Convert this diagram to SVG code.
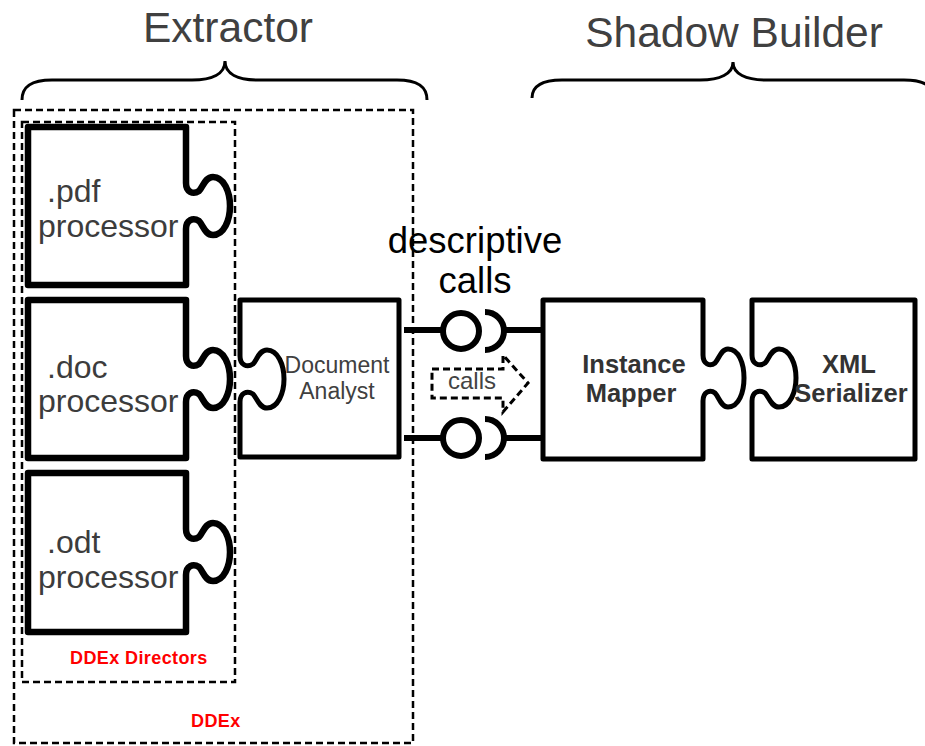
<svg xmlns="http://www.w3.org/2000/svg" width="925" height="746" viewBox="0 0 925 746">
  <style>
    .bg { fill: #ffffff; }
    .piece { fill: #ffffff; stroke: #000; stroke-linejoin: round; }
    .thick { stroke-width: 6.5; }
    .mid { stroke-width: 5; }
    .dash { fill: none; stroke: #000; stroke-width: 2.5; stroke-dasharray: 7 4; }
    .brace { fill: none; stroke: #000; stroke-width: 3; }
    .title { font-family: "Liberation Sans", Arial, sans-serif; font-size: 42.5px; fill: #404040; text-anchor: middle; }
    .proc { font-family: "Liberation Sans", Arial, sans-serif; font-size: 32px; fill: #3c3c3c; }
    .light { font-family: "Liberation Sans", Arial, sans-serif; font-size: 23px; fill: #404040; text-anchor: middle; }
    .bold { font-family: "Liberation Sans", Arial, sans-serif; font-size: 25.5px; font-weight: bold; fill: #333; text-anchor: middle; }
    .red { font-family: "Liberation Sans", Arial, sans-serif; font-size: 18px; font-weight: bold; fill: #ff0000; letter-spacing: 0.4px; }
    .wire { fill: none; stroke: #000; stroke-width: 6; }
  </style>

  <rect class="bg" x="0" y="0" width="925" height="746"/>

  <!-- Group headings with braces -->
  <g id="extractor-label">
    <text class="title" x="228" y="42">Extractor</text>
    <path class="brace" d="M22,100 C22,86 32,80 52,80 L192,80 C212,80 225,74 225,61 C225,74 238,80 258,80 L397,80 C417,80 427,86 427,100"/>
  </g>
  <g id="shadow-builder-label">
    <text class="title" x="734" y="47">Shadow Builder</text>
    <path class="brace" d="M532,98 C532,86 542,80 562,80 L700,80 C720,80 733,74 733,62 C733,74 746,80 766,80 L904,80 C924,80 934,86 934,98"/>
  </g>

  <!-- DDEx containers -->
  <g id="ddex">
    <rect class="dash" x="14" y="110" width="399" height="633"/>
    <text class="red" x="191" y="727">DDEx</text>
  </g>
  <g id="ddex-directors">
    <rect class="dash" x="22" y="122" width="213" height="560"/>
    <text class="red" x="70" y="664">DDEx Directors</text>
  </g>

  <!-- Processor pieces (tab on the right) -->
  <g id="pdf-processor">
    <path class="piece thick" d="M28,127 H186 V183 C186,192 193,195 199,191 C203,187 205,177 213,177 C224,177 230,192 230,206 C230,220 224,235 213,235 C205,235 203,225 199,221 C193,217 186,220 186,229 V285 H28 Z"/>
    <text class="proc" x="47" y="202">.pdf</text>
    <text class="proc" x="38" y="237">processor</text>
  </g>
  <g id="doc-processor">
    <path class="piece thick" d="M28,300 H186 V356 C186,365 193,368 199,364 C203,360 205,350 213,350 C224,350 230,365 230,379 C230,393 224,408 213,408 C205,408 203,398 199,394 C193,390 186,393 186,402 V458 H28 Z"/>
    <text class="proc" x="47" y="378">.doc</text>
    <text class="proc" x="38" y="412">processor</text>
  </g>
  <g id="odt-processor">
    <path class="piece thick" d="M28,473 H186 V529 C186,538 193,541 199,537 C203,533 205,523 213,523 C224,523 230,538 230,552 C230,566 224,581 213,581 C205,581 203,571 199,567 C193,563 186,566 186,575 V632 H28 Z"/>
    <text class="proc" x="47" y="553">.odt</text>
    <text class="proc" x="38" y="588">processor</text>
  </g>

  <!-- Document Analyst (socket on the left) -->
  <g id="document-analyst">
    <path class="piece mid" d="M240,300 H399 V457 H240 V402 C240,393 247,390 253,394 C257,398 259,408 267,408 C278,408 284,393 284,379 C284,365 278,350 267,350 C259,350 257,360 253,364 C247,368 240,365 240,356 Z"/>
    <text class="light" x="337" y="373">Document</text>
    <text class="light" x="337" y="399">Analyst</text>
  </g>

  <!-- Instance Mapper (tab on the right) -->
  <g id="instance-mapper">
    <path class="piece mid" d="M543,300 H703 V355 C703,364 710,367 715,363 C719,359 721,349 728,349 C739,349 744,364 744,378 C744,392 739,407 728,407 C721,407 719,397 715,393 C710,389 703,392 703,401 V459 H543 Z"/>
    <text class="bold" x="634" y="373">Instance</text>
    <text class="bold" x="631" y="402">Mapper</text>
  </g>

  <!-- XML Serializer (socket on the left) -->
  <g id="xml-serializer">
    <path class="piece mid" d="M752,300 H915 V459 H752 V401 C752,392 759,389 765,393 C769,397 771,407 779,407 C790,407 796,392 796,378 C796,364 790,349 779,349 C771,349 769,359 765,363 C759,367 752,364 752,355 Z"/>
    <text class="bold" x="849" y="373">XML</text>
    <text class="bold" x="851" y="402">Serializer</text>
  </g>

  <!-- Interface connectors between Document Analyst and Instance Mapper -->
  <g id="connectors">
    <text x="475" y="253" font-family="Liberation Sans, Arial, sans-serif" font-size="36.5" fill="#000" text-anchor="middle">descriptive</text>
    <text x="475" y="293" font-family="Liberation Sans, Arial, sans-serif" font-size="36.5" fill="#000" text-anchor="middle">calls</text>

    <line class="wire" x1="404" y1="330" x2="443" y2="330"/>
    <circle class="wire" cx="461" cy="331" r="18" fill="#fff"/>
    <path class="wire" d="M485,312 A19,19 0 0 1 485,350"/>
    <line class="wire" x1="504" y1="330" x2="543" y2="330"/>

    <line class="wire" x1="404" y1="438" x2="443" y2="438"/>
    <circle class="wire" cx="461" cy="438" r="18" fill="#fff"/>
    <path class="wire" d="M485,419 A19,19 0 0 1 485,457"/>
    <line class="wire" x1="504" y1="438" x2="543" y2="438"/>

    <path d="M432,369 L503,369 L503,355 L528,383 L503,412 L503,398 L432,398 Z" fill="none" stroke="#000" stroke-width="3" stroke-dasharray="7 4"/>
    <text x="472" y="389" font-family="Liberation Sans, Arial, sans-serif" font-size="24" fill="#444" text-anchor="middle">calls</text>
  </g>
</svg>
